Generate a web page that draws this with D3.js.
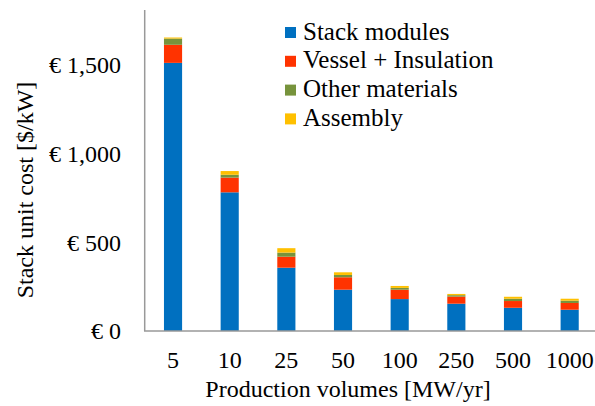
<!DOCTYPE html>
<html>
<head>
<meta charset="utf-8">
<script src="https://cdn.jsdelivr.net/npm/d3@7"></script>
</head>
<body style="margin:0; background:#fff">
<svg id="chart" width="595" height="406" font-family="Liberation Serif"></svg>
<script>
// data
const volumes = ["5", "10", "25", "50", "100", "250", "500", "1000"];
const seriesNames = ["Stack modules", "Vessel + Insulation", "Other materials", "Assembly"];
const stackModules = [1512, 782, 357, 233, 180, 154, 131, 120];
const vesselInsulation = [102, 83, 62, 70, 53, 40, 38, 38];
const otherMaterials = [35, 16, 23, 13, 10, 8, 13, 13];
const assembly = [6, 21, 25, 15, 11, 7, 11, 11];
const yTicks = [0, 500, 1000, 1500];
const colors = ["#0070C0", "#FF3300", "#77933C", "#FFC000"];

const table = volumes.map((v, i) => ({
    vol: v,
    "Stack modules": stackModules[i],
    "Vessel + Insulation": vesselInsulation[i],
    "Other materials": otherMaterials[i],
    "Assembly": assembly[i]
}));

const svg = d3.select("#chart");
const baseY = 331;
const fontFamily = "Liberation Serif";
const fontSize = 24;
const x = d3.scaleBand().domain(volumes).range([144.7, 598]).paddingInner(0.68).paddingOuter(0.34);
const y = d3.scaleLinear().domain([0, 1500]).range([baseY, 65]);

const stacked = d3.stack().keys(seriesNames)(table);

// bars
svg.append("g").selectAll("g")
    .data(stacked)
    .join("g")
    .attr("fill", (d, i) => colors[i])
    .selectAll("rect")
    .data(d => d)
    .join("rect")
    .attr("x", d => x(d.data.vol))
    .attr("width", x.bandwidth())
    .attr("y", d => y(d[1]))
    .attr("height", d => y(d[0]) - y(d[1]));

// axis lines
svg.append("line")
    .attr("x1", 144.7).attr("x2", 144.7)
    .attr("y1", 10).attr("y2", baseY)
    .attr("stroke", "#999").attr("stroke-width", 1.5);
svg.append("line")
    .attr("x1", 144).attr("x2", 595)
    .attr("y1", baseY).attr("y2", baseY)
    .attr("stroke", "#999").attr("stroke-width", 1.5);

// y tick labels
const fmt = d3.format(",");
svg.append("g").selectAll("text")
    .data(yTicks)
    .join("text")
    .attr("x", 121)
    .attr("y", d => y(d))
    .attr("dy", "0.35em")
    .attr("text-anchor", "end")
    .attr("font-family", fontFamily)
    .attr("font-size", fontSize)
    .text(d => "€ " + fmt(d));

// x tick labels
svg.append("g").selectAll("text")
    .data(volumes)
    .join("text")
    .attr("x", d => x(d) + x.bandwidth() / 2)
    .attr("y", 368)
    .attr("text-anchor", "middle")
    .attr("font-family", fontFamily)
    .attr("font-size", fontSize)
    .text(d => d);

// axis titles
svg.append("text")
    .attr("x", 348).attr("y", 397)
    .attr("text-anchor", "middle")
    .attr("font-family", fontFamily)
    .attr("font-size", fontSize)
    .text("Production volumes [MW/yr]");
svg.append("text")
    .attr("transform", "translate(33,190) rotate(-90)")
    .attr("text-anchor", "middle")
    .attr("font-family", fontFamily)
    .attr("font-size", fontSize)
    .text("Stack unit cost [$/kW]");

// legend
const legend = svg.append("g").selectAll("g")
    .data(seriesNames)
    .join("g")
    .attr("transform", (d, i) => `translate(285,${32 + i * 28.8})`);
legend.append("rect")
    .attr("x", 0).attr("y", -5)
    .attr("width", 11).attr("height", 11)
    .attr("fill", (d, i) => colors[i]);
legend.append("text")
    .attr("x", 18).attr("y", 7.5)
    .attr("font-family", fontFamily)
    .attr("font-size", 25)
    .text(d => d);
</script>
</body>
</html>
